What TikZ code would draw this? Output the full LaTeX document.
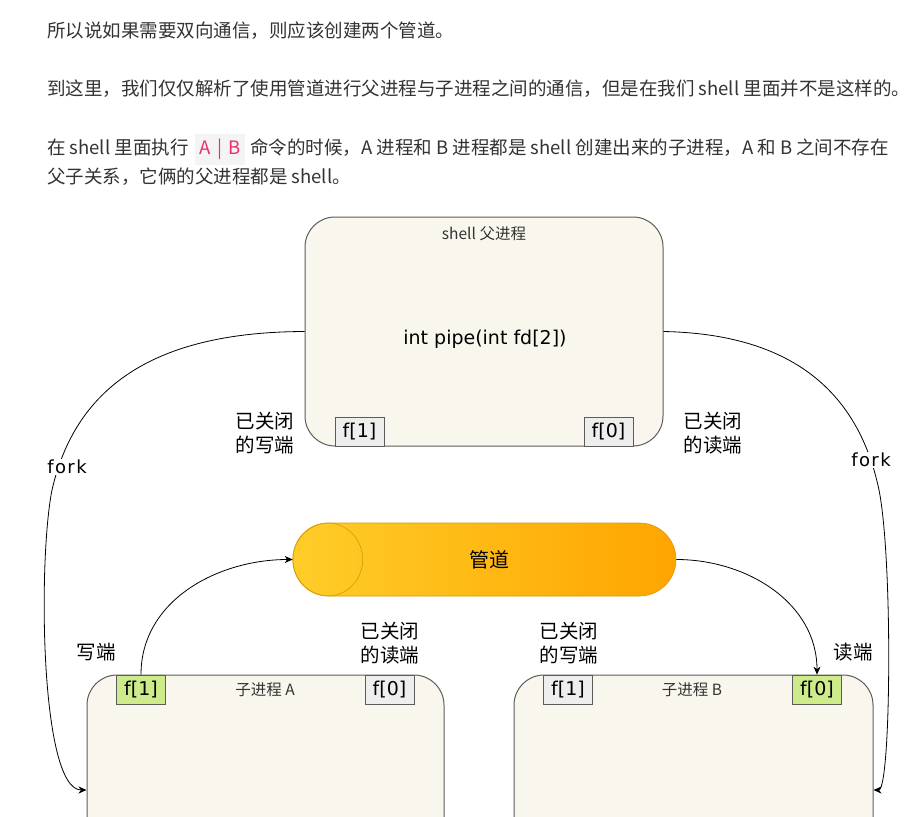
\documentclass[tikz,border=0pt]{standalone}
\usepackage{fontspec}
\setmainfont{Noto Sans CJK SC}
\newfontfamily\handfont{DejaVu Sans}
\usetikzlibrary{arrows.meta}
% Colours of the sketch
\definecolor{textgray}{HTML}{333333}
\definecolor{procfill}{HTML}{F9F7ED}
\definecolor{procline}{HTML}{5C5C5C}
\definecolor{fdgray}{HTML}{EEEEEE}
\definecolor{fdgreen}{HTML}{CDEB8B}
\definecolor{pipeleft}{HTML}{FFCD28}
\definecolor{piperight}{HTML}{FFA500}
\definecolor{pipeedge}{HTML}{D79B00}
\definecolor{codebg}{HTML}{F4F4F4}
\definecolor{codefg}{HTML}{EC2D6E}
\providecommand{\procLineWidth}{1pt}
\providecommand{\flowLineWidth}{0.8pt}
\newcommand{\fsize}[1]{\fontsize{#1}{#1}\selectfont}
\tikzset{
  para/.style={anchor=base west, inner sep=0pt, text=textgray, font=\fsize{18.5}},
  procbox/.style={draw=procline, fill=procfill, line width=\procLineWidth, rounded corners=30pt, inner sep=0pt},
  proctitle/.style={text=textgray, inner sep=0pt, font=\fsize{15.5}},
  fdbox/.style={draw=procline, line width=0.8pt, minimum width=49pt, minimum height=29pt, inner sep=0pt, font=\handfont\fsize{19}},
  fdclosed/.style={fdbox, fill=fdgray},
  fdopen/.style={fdbox, fill=fdgreen},
  note/.style={align=center, inner sep=0pt, font=\fontsize{19.5}{24}\selectfont},
  forklabel/.style={fill=white, inner sep=1pt, font=\handfont\fsize{18}\addfontfeatures{LetterSpace=8}},
  flow/.style={draw=black, line width=\flowLineWidth, -{Stealth[length=8pt, width=7pt, inset=2.5pt]}}
}
\begin{document}
\begin{tikzpicture}[x=1pt, y=-1pt]
\clip (0,0) rectangle (922,817);
\fill[white] (0,0) rectangle (922,817);
% Text above the sketch
\node[para] (line1) at (47,37) {所以说如果需要双向通信，则应该创建两个管道。};
\node[para] (line2) at (47,95) {到这里，我们仅仅解析了使用管道进行父进程与子进程之间的通信，但是在我们 shell 里面并不是这样的。};
\node[para] (line3) at (47,154) {在 shell 里面执行\hspace{6pt}{\setlength{\fboxsep}{5pt}\colorbox{codebg}{\strut\color{codefg}A\,\,|\,\,B}}\hspace{5pt}命令的时候，A 进程和 B 进程都是 shell 创建出来的子进程，A 和 B 之间不存在};
\node[para] (line4) at (47,183) {父子关系，它俩的父进程都是 shell。};
% Parent shell
\node[procbox, minimum width=358pt, minimum height=229pt] (shell) at (484,331.5) {};
\node[proctitle] (shelltitle) at (484,234) {shell 父进程};
\node[inner sep=0pt, font=\handfont\fsize{19}] (pipecall) at (485,339) {int pipe(int fd[2])};
\node[fdclosed] (shellfdw) at (359.5,431.5) {f[1]};
\node[fdclosed] (shellfdr) at (608.5,431.5) {f[0]};
\node[note] (shellnotew) at (265,433) {已关闭\\的写端};
\node[note] (shellnoter) at (713,433) {已关闭\\的读端};
% Pipe
\node[draw=pipeedge, line width=0.6pt, left color=pipeleft, right color=piperight, rounded corners=36.5pt,
      minimum width=383pt, minimum height=73pt, inner sep=0pt, font=\fsize{20}] (pipe) at (484.5,559.5) {\hspace{10pt}管道};
\draw[pipeedge, line width=0.6pt] ([xshift=35pt]pipe.west) ellipse [x radius=35pt, y radius=36.5pt];
% Child A
\node[procbox, minimum width=357pt, minimum height=230pt] (childA) at (265.5,790) {};
\node[proctitle] (childAtitle) at (265,690) {子进程 A};
\node[fdopen] (childAfdw) at (141,689.5) {f[1]};
\node[fdclosed] (childAfdr) at (389.5,689.5) {f[0]};
\node[note] (childAnotew) at (96,652) {写端};
\node[note] (childAnoter) at (390,643) {已关闭\\的读端};
% Child B
\node[procbox, minimum width=359pt, minimum height=230pt] (childB) at (693.5,790) {};
\node[proctitle] (childBtitle) at (692,690) {子进程 B};
\node[fdclosed] (childBfdw) at (568,689.5) {f[1]};
\node[fdopen] (childBfdr) at (817,689.5) {f[0]};
\node[note] (childBnotew) at (569,643) {已关闭\\的写端};
\node[note] (childBnoter) at (853,652) {读端};
% Data through the pipe
\draw[flow] (childAfdw.north) to[out=90, in=180] (pipe.west);
\draw[flow] (pipe.east) to[out=0, in=90] (childBfdr.north);
% fork arrows
\coordinate (bendL) at (52,490);
\coordinate (bendR) at (879,490);
\draw[flow] (shell.west) .. controls (150,332) and (75,390) .. (bendL)
  .. controls (38,560) and (40,790) .. (childA.west);
\draw[flow] (shell.east) .. controls (790,334) and (858,390) .. (bendR)
  .. controls (893,560) and (891,790) .. (childB.east);
\node[forklabel] (forkA) at (67,467) {fork};
\node[forklabel] (forkB) at (871,460) {fork};
\end{tikzpicture}
\end{document}
